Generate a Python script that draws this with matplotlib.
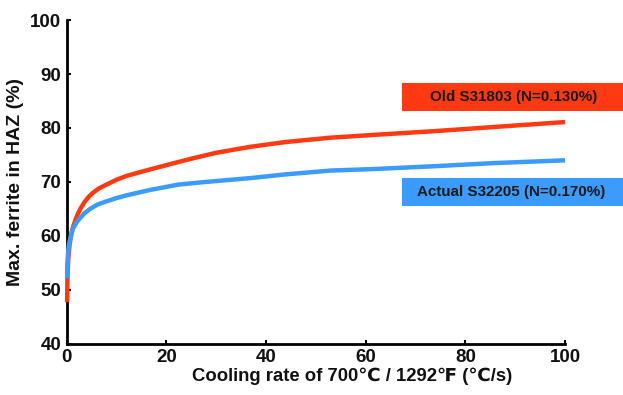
import matplotlib
matplotlib.use("Agg")
import matplotlib.pyplot as plt
from matplotlib.patches import Rectangle

plt.rcParams['font.family'] = ['Liberation Sans', 'DejaVu Sans']
plt.rcParams['font.weight'] = 'bold'

# max ferrite in HAZ (%) vs cooling rate (C/s)
old_x = [0.1, 0.15, 0.3, 0.6, 1.0, 1.3, 1.8, 2.3, 3.0, 3.7, 4.5, 5.3, 6.5, 8.0, 10, 12,
         14.3, 16.7, 20.8, 25, 30, 36.8, 44, 52.9, 63, 73.6, 86, 100]
old_y = [47.7, 52.0, 55.5, 58.5, 60.6, 61.7, 63.0, 64.2, 65.4, 66.4, 67.3, 68.0, 68.8, 69.5,
         70.4, 71.1, 71.7, 72.3, 73.3, 74.3, 75.4, 76.5, 77.4, 78.2, 78.8, 79.4, 80.2, 81.1]
new_x = [0.1, 0.12, 0.3, 0.5, 0.9, 1.3, 2.0, 2.7, 3.6, 4.7, 6.2, 8.0, 10, 12, 14.3, 16.7,
         22.4, 28, 36.8, 44, 52.9, 62, 73.6, 86, 100]
new_y = [52.1, 54.5, 57.0, 58.6, 60.2, 61.4, 62.5, 63.3, 64.2, 65.0, 65.8, 66.4, 67.0, 67.5,
         68.0, 68.5, 69.5, 70.0, 70.7, 71.4, 72.1, 72.4, 72.9, 73.5, 74.0]

old_label = "Old S31803 (N=0.130%)"
new_label = "Actual S32205 (N=0.170%)"
red = '#ff3a12'
blue = '#3b9bff'

fig = plt.figure(figsize=(6.23, 3.95), dpi=100)
ax = fig.add_axes([0.107, 0.130, 0.800, 0.819])

ax.plot(old_x, old_y, color=red, lw=3.2, solid_capstyle='butt',
        solid_joinstyle='round', zorder=3, clip_on=False)
ax.plot(new_x, new_y, color=blue, lw=3.2, solid_capstyle='butt',
        solid_joinstyle='round', zorder=4, clip_on=False)

ax.set_xlim(0, 100)
ax.set_ylim(40, 100)
ax.set_xticks([0, 20, 40, 60, 80, 100])
ax.set_yticks([40, 50, 60, 70, 80, 90, 100])
ax.tick_params(direction='in', length=3, width=1.5, labelsize=13.5, pad=4, colors='black')
for lab in ax.get_xticklabels() + ax.get_yticklabels():
    lab.set_fontweight('bold')
    lab.set_color('#111111')

for s in ['top', 'right']:
    ax.spines[s].set_visible(False)
for s in ['left', 'bottom']:
    ax.spines[s].set_linewidth(2)

ax.set_xlabel("Cooling rate of 700\u2103 / 1292\u2109 (\u2103/s)", fontsize=13.3,
              fontweight='bold', labelpad=1, color='#111111', x=0.572)
ax.set_ylabel("Max. ferrite in HAZ (%)", fontsize=14, fontweight='bold',
              labelpad=4, color='#111111')

# coloured label boxes
fig.patches.append(Rectangle((0.645, 0.720), 0.36, 0.069, transform=fig.transFigure,
                             facecolor=red, edgecolor='none'))
fig.patches.append(Rectangle((0.645, 0.479), 0.36, 0.070, transform=fig.transFigure,
                             facecolor=blue, edgecolor='none'))
fig.text(0.824, 0.754, old_label, ha='center', va='center', fontsize=10.9,
         fontweight='bold', color='#1a1a1a')
fig.text(0.820, 0.513, new_label, ha='center', va='center', fontsize=10.9,
         fontweight='bold', color='#1a1a1a')

fig.savefig('out.png', dpi=100)
